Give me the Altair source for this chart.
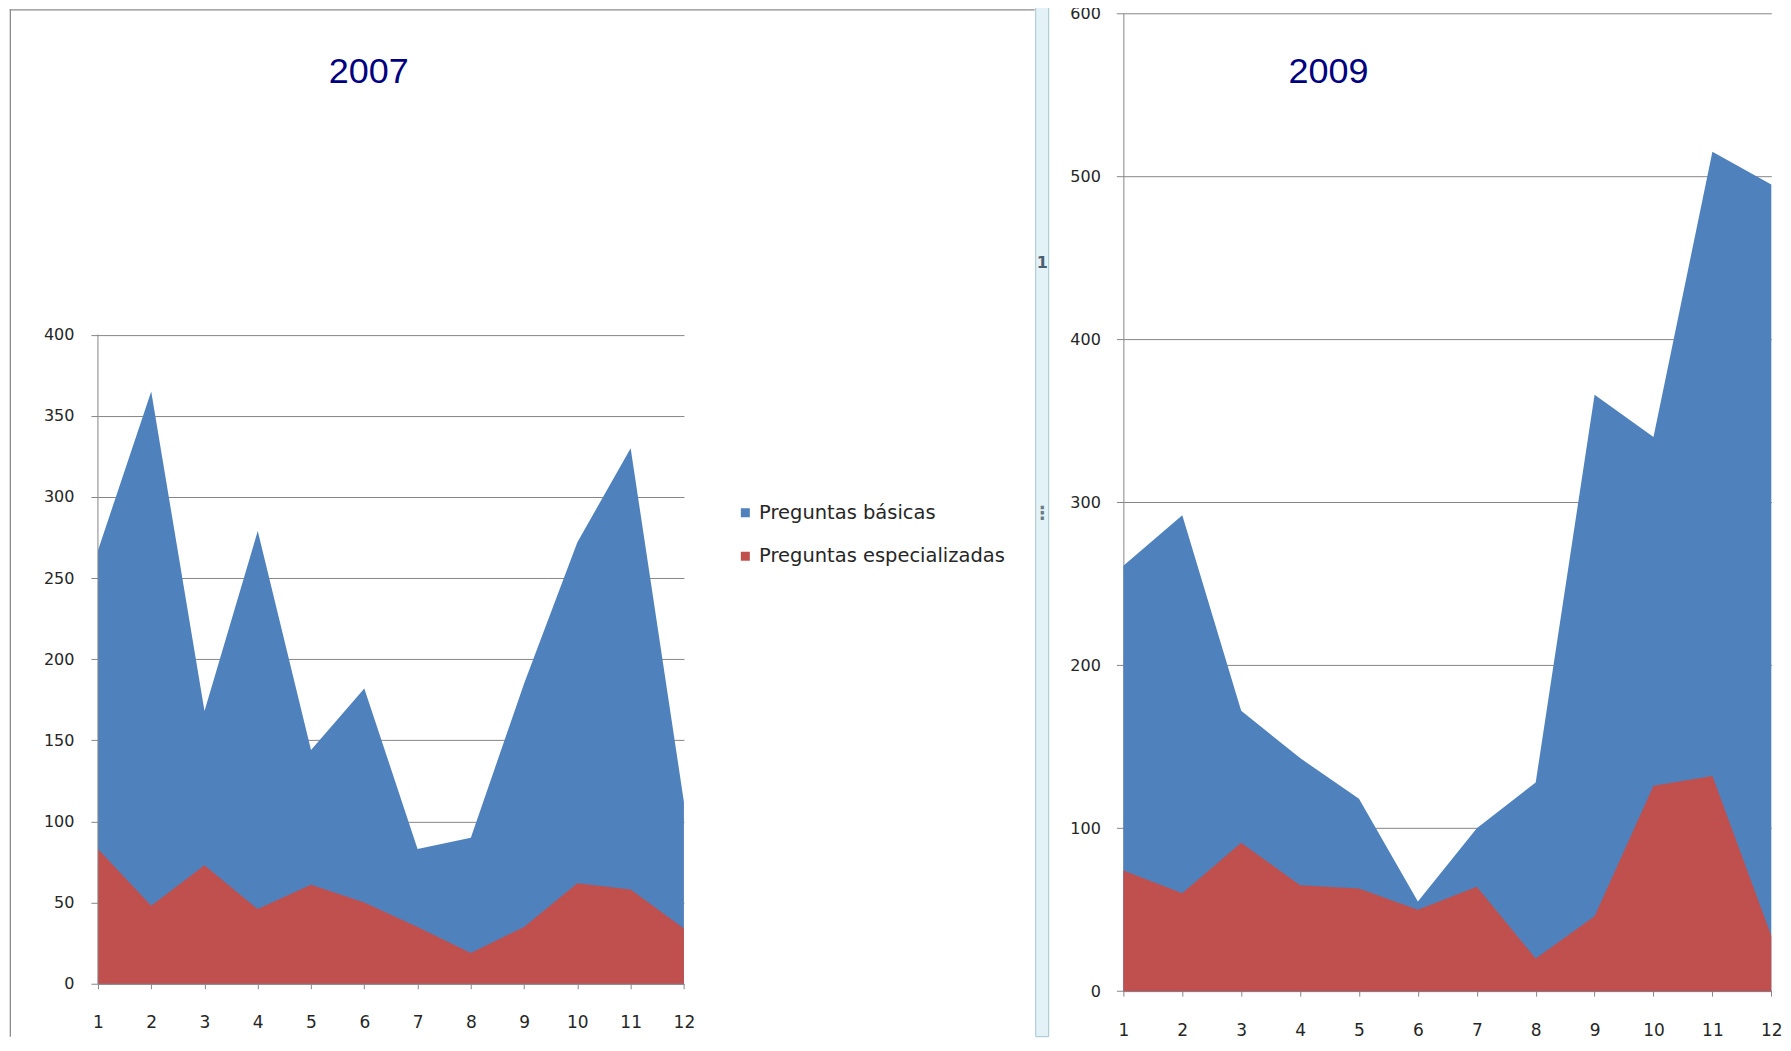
import altair as alt
import pandas as pd

# ---- data ----
MONTHS = list(range(1, 13))
SERIES = ["Preguntas básicas", "Preguntas especializadas"]
COLORS = ["#4F81BD", "#C0504D"]

BASICAS_2007 = [267, 365, 168, 279, 144, 182, 83, 90, 185, 272, 330, 112]
ESPECIAL_2007 = [83, 48, 73, 46, 61, 50, 35, 19, 35, 62, 58, 34]
BASICAS_2009 = [261, 292, 172, 143, 118, 55, 100, 128, 366, 340, 515, 495]
ESPECIAL_2009 = [74, 60, 91, 65, 63, 50, 64, 20, 46, 126, 132, 34]

TITLES = ["2007", "2009"]
Y_TICKS_2007 = [0, 50, 100, 150, 200, 250, 300, 350, 400]
Y_TICKS_2009 = [0, 100, 200, 300, 400, 500, 600]
RULER_MARK = ["1"]
RULER_DOTS = ["⋮"]

GRID = "#868686"
LABEL = "#262626"
FONT = "DejaVu Sans"
TITLE_COLOR = "#000080"


def series_df(values, name):
    return pd.DataFrame({"mes": MONTHS, "valor": values, "serie": [name] * len(MONTHS)})


one = pd.DataFrame({"k": [0]})

x_enc = alt.X(
    "mes:Q",
    scale=alt.Scale(domain=[1, 12], nice=False, zero=False),
    axis=alt.Axis(values=MONTHS, format="d", grid=False, domainColor=GRID,
                  tickColor=GRID, tickSize=5, labelPadding=26, labelFontSize=17,
                  labelFont=FONT, labelColor=LABEL, title=None, labelFlush=False),
)

# ---------------- left chart (2007) ----------------
y_left = alt.Y(
    "valor:Q", stack=None,
    scale=alt.Scale(domain=[0, 598], nice=False),
    axis=alt.Axis(values=Y_TICKS_2007, grid=True, gridColor=GRID, domain=False,
                  tickColor=GRID, tickSize=7, labelPadding=17, labelFontSize=16,
                  labelFont=FONT, labelColor=LABEL, title=None),
)
color_left = alt.Color(
    "serie:N",
    scale=alt.Scale(domain=SERIES, range=COLORS),
    legend=alt.Legend(orient="none", legendX=638, legendY=490, title=None,
                      symbolType="square", symbolSize=81, symbolStrokeWidth=0,
                      labelFont=FONT, labelFontSize=19.5, labelColor=LABEL,
                      labelOffset=4, labelLimit=0, rowPadding=22.5, padding=0),
)

frame_left = alt.Chart(one).mark_rect(color="#8c8c8c").encode(
    x=alt.value(-88.3), x2=alt.value(-87.0), y=alt.value(-4.0), y2=alt.value(1024))
frame_top = alt.Chart(one).mark_rect(color="#8c8c8c").encode(
    x=alt.value(-88.3), x2=alt.value(937.3), y=alt.value(-4.0), y2=alt.value(-2.7))
yaxis_line = alt.Chart(one).mark_rule(color=GRID, strokeWidth=1).encode(
    x=alt.value(0), y=alt.datum(Y_TICKS_2007[-1]), y2=alt.datum(0))

area_b07 = alt.Chart(series_df(BASICAS_2007, SERIES[0])).mark_area(opacity=1).encode(
    x=x_enc, y=y_left, color=color_left)
area_e07 = alt.Chart(series_df(ESPECIAL_2007, SERIES[1])).mark_area(opacity=1).encode(
    x=x_enc, y=y_left, color=color_left)
title07 = alt.Chart(pd.DataFrame({"t": [TITLES[0]]})).mark_text(
    font="Liberation Sans", fontSize=36, color=TITLE_COLOR, align="center",
    baseline="middle").encode(text="t:N", x=alt.value(271.0), y=alt.value(58.5))

left = alt.layer(frame_left, frame_top, area_b07, area_e07, yaxis_line, title07).properties(
    width=586.3, height=971)

# ---------------- right chart (2009) ----------------
y_right = alt.Y(
    "valor:Q", stack=None,
    scale=alt.Scale(domain=[0, 600], nice=False),
    axis=alt.Axis(values=Y_TICKS_2009, grid=True, gridColor=GRID, domain=True,
                  domainColor=GRID, tickColor=GRID, tickSize=7, labelPadding=16,
                  labelFontSize=16, labelFont=FONT, labelColor=LABEL, title=None),
)

strip = alt.Chart(one).mark_rect(fill="#e3f2f7", stroke="#a4c4d0", strokeWidth=1).encode(
    x=alt.value(-87.7), x2=alt.value(-74.7), y=alt.value(-12.3), y2=alt.value(1024))
strip_one = alt.Chart(pd.DataFrame({"t": RULER_MARK})).mark_text(
    font=FONT, fontSize=16, fontWeight="bold", color="#4a6070").encode(
    text="t:N", x=alt.value(-81), y=alt.value(249.4))
strip_dots = alt.Chart(pd.DataFrame({"t": RULER_DOTS})).mark_text(
    font=FONT, fontSize=18, fontWeight="bold", color="#6a7a85").encode(
    text="t:N", x=alt.value(-81), y=alt.value(500.7))

area_b09 = alt.Chart(series_df(BASICAS_2009, SERIES[0])).mark_area(
    opacity=1, color=COLORS[0]).encode(x=x_enc, y=y_right)
area_e09 = alt.Chart(series_df(ESPECIAL_2009, SERIES[1])).mark_area(
    opacity=1, color=COLORS[1]).encode(x=x_enc, y=y_right)
title09 = alt.Chart(pd.DataFrame({"t": [TITLES[1]]})).mark_text(
    font="Liberation Sans", fontSize=36, color=TITLE_COLOR, align="center",
    baseline="middle").encode(text="t:N", x=alt.value(205.3), y=alt.value(58.5))

right = alt.layer(strip, strip_one, strip_dots, area_b09, area_e09, title09).properties(
    width=648.3, height=978.4)

chart = alt.hconcat(left, right, spacing=439).properties(
    bounds="flush",
    padding={"left": 1, "top": -8, "right": 0, "bottom": 0},
    background="white",
).configure_view(stroke=None)

chart.save("out.html", embed_options={"renderer": "svg", "actions": False})
